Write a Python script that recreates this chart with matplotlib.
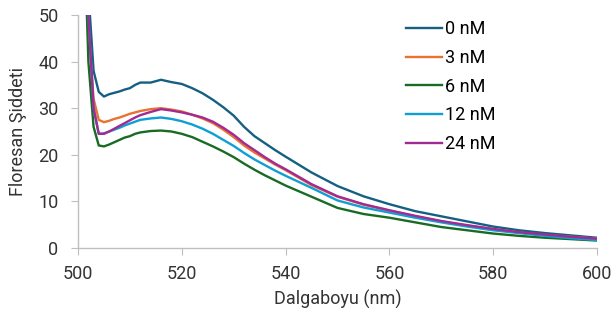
import matplotlib
matplotlib.use("Agg")
import matplotlib.pyplot as plt

wavelength = [501, 502, 503, 504, 505, 506, 507, 508, 509, 510, 511, 512,
              514, 516, 518, 520, 522, 524, 526, 528, 530, 532, 534, 536, 538, 540,
              545, 550, 555, 560, 565, 570, 575, 580, 585, 590, 595, 600]

nm0 = [90, 55, 38, 33.5, 32.5, 33.0, 33.3, 33.6, 34.0, 34.3, 35.0, 35.5,
       35.5, 36.1, 35.6, 35.2, 34.3, 33.2, 31.8, 30.2, 28.4, 26.0, 24.0, 22.5, 21.0, 19.6,
       16.2, 13.3, 11.1, 9.4, 7.9, 6.8, 5.7, 4.6, 3.8, 3.2, 2.7, 2.2]
nm3 = [80, 48, 32, 27.5, 27.0, 27.3, 27.7, 28.0, 28.4, 28.8, 29.1, 29.4,
       29.8, 30.0, 29.7, 29.3, 28.6, 27.8, 26.8, 25.4, 23.8, 22.0, 20.5, 19.2, 17.9, 16.7,
       13.5, 11.0, 9.3, 8.0, 6.8, 5.7, 4.8, 4.0, 3.3, 2.8, 2.4, 2.0]
nm6 = [75, 40, 26, 22.0, 21.8, 22.2, 22.7, 23.2, 23.7, 24.0, 24.5, 24.8,
       25.1, 25.2, 25.0, 24.5, 23.8, 22.8, 21.8, 20.7, 19.5, 18.1, 16.8, 15.6, 14.5, 13.4,
       11.0, 8.6, 7.3, 6.5, 5.5, 4.5, 3.8, 3.1, 2.6, 2.2, 1.9, 1.6]
nm12 = [85, 50, 30, 24.5, 24.6, 25.0, 25.4, 25.8, 26.3, 26.7, 27.1, 27.5,
        27.8, 28.0, 27.7, 27.2, 26.5, 25.6, 24.5, 23.2, 21.9, 20.4, 19.0, 17.8, 16.6, 15.5,
        12.9, 10.2, 8.7, 7.6, 6.5, 5.5, 4.6, 3.8, 3.2, 2.6, 2.1, 1.7]
nm24 = [85, 50, 30, 24.5, 24.5, 25.0, 25.6, 26.2, 26.8, 27.4, 28.0, 28.5,
        29.2, 29.8, 29.5, 29.1, 28.6, 28.0, 27.1, 25.8, 24.3, 22.5, 21.0, 19.5, 18.1, 16.9,
        13.7, 11.1, 9.4, 8.1, 6.9, 5.8, 4.9, 4.1, 3.4, 2.9, 2.4, 2.0]

series = [nm0, nm3, nm6, nm12, nm24]
labels = ["0 nM", "3 nM", "6 nM", "12 nM", "24 nM"]
colors = ["#156082", "#E97132", "#196B24", "#0F9ED5", "#A02B93"]

plt.rcParams['font.family'] = ['Roboto', 'DejaVu Sans']
plt.rcParams['font.size'] = 13

W, H = 612, 323
fig = plt.figure(figsize=(W / 100, H / 100), dpi=100)
x0, x1, ytop, ybot = 78, 597, 15, 248
ax = fig.add_axes([x0 / W, 1 - ybot / H, (x1 - x0) / W, (ybot - ytop) / H])

for vals, lab, col in zip(series, labels, colors):
    ax.plot(wavelength, vals, color=col, lw=1.7, label=lab)

ax.set_xlim(500, 600)
ax.set_ylim(0, 50)
ax.set_xticks([500, 520, 540, 560, 580, 600])
ax.set_yticks([0, 10, 20, 30, 40, 50])

for s in ["top", "right"]:
    ax.spines[s].set_visible(False)
for s in ["left", "bottom"]:
    ax.spines[s].set_color("#BFBFBF")
    ax.spines[s].set_linewidth(1.0)
ax.tick_params(axis="both", direction="out", length=5, color="#BFBFBF",
               labelsize=13, labelcolor="#333333")
ax.tick_params(axis="y", pad=9)
ax.tick_params(axis="x", pad=7)

ax.set_xlabel("Dalgaboyu (nm)", fontsize=13, color="#333333", labelpad=5)
ax.set_ylabel("Floresan Şiddeti", fontsize=13, color="#333333", labelpad=8)

ax.legend(loc="upper left", bbox_to_anchor=(406 / W, 1 - 20 / H),
          bbox_transform=fig.transFigure, frameon=False, borderpad=0, borderaxespad=0,
          handlelength=2.0, handletextpad=0.15, labelspacing=0.6, fontsize=13)

fig.savefig("out.png", dpi=100)
